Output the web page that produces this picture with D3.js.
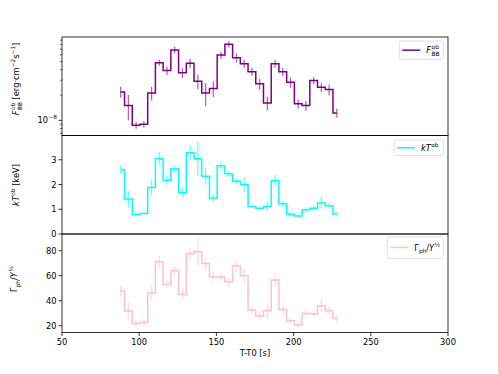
<!DOCTYPE html>
<html>
<head>
<meta charset="utf-8">
<script src="https://cdn.jsdelivr.net/npm/d3@7"></script>
<style>
  body { margin: 0; background: #fff; }
  text { font-family: "DejaVu Sans", sans-serif; fill: #000; white-space: pre; }
</style>
</head>
<body>
<div id="chart"></div>
<script>
// bin centres [s]
var times = [88, 93, 98, 103, 108, 113, 118, 123, 128, 133, 138, 143, 148, 153, 158,
             163, 168, 173, 178, 183, 188, 193, 198, 203, 208, 213, 218, 223, 228];

// observed blackbody flux [erg cm^-2 s^-1]
var flux = [2.18e-8, 1.50e-8, 0.875e-8, 0.90e-8, 2.12e-8, 4.85e-8, 3.92e-8, 6.87e-8, 3.68e-8, 4.76e-8,
            2.92e-8, 2.12e-8, 2.39e-8, 5.98e-8, 8.04e-8, 5.57e-8, 4.72e-8, 3.78e-8, 2.72e-8, 1.61e-8,
            4.72e-8, 3.78e-8, 2.84e-8, 1.58e-8, 1.50e-8, 2.98e-8, 2.47e-8, 2.32e-8, 1.22e-8];
var fluxErr = [0.33e-8, 0.5e-8, 0.08e-8, 0.08e-8, 0.4e-8, 0.4e-8, 0.45e-8, 0.65e-8, 0.5e-8, 0.6e-8,
               0.6e-8, 0.65e-8, 0.5e-8, 0.6e-8, 0.7e-8, 0.7e-8, 0.5e-8, 0.4e-8, 0.4e-8, 0.3e-8,
               0.5e-8, 0.4e-8, 0.4e-8, 0.2e-8, 0.2e-8, 0.3e-8, 0.3e-8, 0.35e-8, 0.15e-8];

// observed temperature [keV]
var kT = [2.60, 1.41, 0.78, 0.83, 1.88, 3.05, 2.17, 2.64, 1.68, 3.28,
          3.04, 2.33, 1.45, 2.76, 2.43, 2.13, 1.99, 1.11, 1.04, 1.11,
          2.15, 1.22, 0.80, 0.73, 0.98, 1.04, 1.25, 1.14, 0.81];
var kTErr = [0.16, 0.33, 0.05, 0.05, 0.32, 0.27, 0.17, 0.14, 0.18, 0.3,
             0.7, 0.34, 0.15, 0.15, 0.1, 0.12, 0.28, 0.06, 0.06, 0.2,
             0.24, 0.1, 0.05, 0.05, 0.1, 0.08, 0.23, 0.12, 0.08];

// Gamma_ph / Y^(1/2)
var gam = [47.8, 31.8, 21.9, 22.7, 46.4, 71.2, 53.1, 64.0, 45.1, 77.9,
           79.2, 69.9, 59.0, 59.0, 55.2, 68.0, 60.0, 32.6, 27.8, 32.0,
           56.6, 33.1, 24.0, 20.6, 29.9, 29.4, 35.8, 32.0, 25.9];
var gamErr = [4, 7, 3, 3, 6, 5, 3, 4, 4, 4.5,
              11, 5, 4, 3, 3, 5, 5, 3, 3, 6,
              5, 3, 2, 2, 3, 2, 5, 3, 3];

var xTicks = [50, 100, 150, 200, 250, 300];

var W = 498, H = 374, fs = 8.3;
var left = 62, right = 448;
var rows = [37, 135.5, 234, 332.5];

var svg = d3.select('#chart').append('svg')
    .attr('width', W).attr('height', H);

var x = d3.scaleLinear().domain([50, 300]).range([left, right]);

// lay out a piece of "math" text in a group, returns its width
function rich(g, parts, size) {
    var cx = 0, lastX = 0;
    parts.forEach(function(p) {
        var t = g.append('text')
            .attr('x', p.stack ? lastX : cx)
            .attr('y', (p.dy || 0) * size)
            .attr('font-size', size * (p.s || 1))
            .attr('font-style', p.i ? 'italic' : 'normal')
            .text(p.t);
        var w = t.node().getComputedTextLength();
        if (!p.stack) { lastX = cx; cx += w + (p.gap || 0); }
        else { cx = Math.max(cx, lastX + w); }
    });
    return cx;
}

var panels = [
    {
        vals: flux, errs: fluxErr, color: 'purple',
        y: d3.scaleLog().domain([6.6e-9, 9.8e-8]).range([rows[1], rows[0]]),
        log: true,
        label: [{t: 'F', i: true, gap: 0.5}, {t: 'ob', s: 0.7, dy: -0.45}, {t: 'BB', s: 0.7, dy: 0.3, stack: true},
                {t: ' [erg\u00b7cm'}, {t: '\u22122', s: 0.7, dy: -0.45}, {t: 's'}, {t: '\u22121', s: 0.7, dy: -0.45}, {t: ']'}],
        labelX: 19, labelY: 79,
        legend: [{t: 'F', i: true, gap: 0.5}, {t: 'ob', s: 0.7, dy: -0.45}, {t: 'BB', s: 0.7, dy: 0.3, stack: true}],
        box: [399.3, 41, 44, 18.3]
    },
    {
        vals: kT, errs: kTErr, color: 'cyan',
        y: d3.scaleLinear().domain([0, 3.98]).range([rows[2], rows[1]]),
        ticks: [0, 1, 2, 3],
        label: [{t: 'kT', i: true, gap: 0.3}, {t: 'ob', s: 0.7, dy: -0.45}, {t: ' [keV]'}],
        labelX: 19, labelY: 185,
        legend: [{t: 'kT', i: true, gap: 0.3}, {t: 'ob', s: 0.7, dy: -0.45}],
        box: [394, 140, 49.3, 15.5]
    },
    {
        vals: gam, errs: gamErr, color: 'pink',
        y: d3.scaleLinear().domain([14.6, 93.4]).range([rows[3], rows[2]]),
        ticks: [20, 40, 60, 80],
        label: [{t: '\u0393'}, {t: 'ph', s: 0.7, dy: 0.3}, {t: '/'}, {t: 'Y', i: true, gap: 0.4}, {t: '\u00bd', s: 0.7, dy: -0.45}],
        labelX: 17, labelY: 279,
        legend: [{t: '\u0393'}, {t: 'ph', s: 0.7, dy: 0.3}, {t: '/'}, {t: 'Y', i: true, gap: 0.4}, {t: '\u00bd', s: 0.7, dy: -0.45}],
        box: [387.3, 236.7, 56, 21.6]
    }
];

panels.forEach(function(p, k) {
    var g = svg.append('g');
    var y = p.y;
    var pts = times.map(function(t, i) { return [t, p.vals[i], p.errs[i]]; });

    // step line
    var line = d3.line()
        .x(function(d) { return x(d[0]); })
        .y(function(d) { return y(d[1]); })
        .curve(d3.curveStep);
    g.append('path').datum(pts)
        .attr('d', line)
        .attr('fill', 'none')
        .attr('stroke', p.color)
        .attr('stroke-width', 1.5);

    // error bars
    g.selectAll('line.err').data(pts).enter().append('line')
        .attr('class', 'err')
        .attr('x1', function(d) { return x(d[0]); })
        .attr('x2', function(d) { return x(d[0]); })
        .attr('y1', function(d) { return y(d[1] - d[2]); })
        .attr('y2', function(d) { return y(d[1] + d[2]); })
        .attr('stroke', p.color)
        .attr('stroke-opacity', 0.6)
        .attr('stroke-width', 1.3);

    // y ticks
    var yg = g.append('g');
    if (p.log) {
        var dom = y.domain();
        var minor = [];
        [1e-9, 1e-8].forEach(function(dec) {
            for (var m = 1; m <= 9; m++) {
                var v = m * dec;
                if (v >= dom[0] && v <= dom[1]) minor.push(v);
            }
        });
        minor.forEach(function(v) {
            var major = Math.abs(v - 1e-8) < 1e-12;
            yg.append('line')
                .attr('x1', left).attr('x2', left - (major ? 3.5 : 2))
                .attr('y1', y(v)).attr('y2', y(v))
                .attr('stroke', '#000').attr('stroke-width', major ? 0.8 : 0.6);
        });
        var lt = yg.append('g').attr('transform', 'translate(' + (left - 5) + ',' + (y(1e-8) + 3) + ')');
        var tmp = lt.append('g');
        var w = rich(tmp, [{t: '10', gap: 0.3}, {t: '\u22128', s: 0.7, dy: -0.5}], fs);
        tmp.attr('transform', 'translate(' + (-w) + ',0)');
    } else {
        p.ticks.forEach(function(v) {
            yg.append('line')
                .attr('x1', left).attr('x2', left - 3.5)
                .attr('y1', y(v)).attr('y2', y(v))
                .attr('stroke', '#000').attr('stroke-width', 0.8);
            yg.append('text')
                .attr('x', left - 5.5).attr('y', y(v) + 3)
                .attr('text-anchor', 'end')
                .attr('font-size', fs)
                .text(v);
        });
    }

    // frame
    g.append('rect')
        .attr('x', left).attr('y', rows[k])
        .attr('width', right - left).attr('height', rows[k + 1] - rows[k])
        .attr('fill', 'none').attr('stroke', '#000').attr('stroke-width', 0.8);

    // y label
    var lg = svg.append('g')
        .attr('transform', 'translate(' + p.labelX + ',' + p.labelY + ') rotate(-90)');
    var inner = lg.append('g');
    var lw = rich(inner, p.label, fs);
    inner.attr('transform', 'translate(' + (-lw / 2) + ',0)');

    // legend
    var b = p.box;
    svg.append('rect')
        .attr('x', b[0]).attr('y', b[1]).attr('width', b[2]).attr('height', b[3])
        .attr('rx', 2).attr('fill', '#fff').attr('fill-opacity', 0.8)
        .attr('stroke', '#d6d6d6').attr('stroke-width', 0.8);
    var cy = b[1] + b[3] / 2;
    svg.append('line')
        .attr('x1', b[0] + 3).attr('x2', b[0] + 21)
        .attr('y1', cy).attr('y2', cy)
        .attr('stroke', p.color).attr('stroke-width', 1.5);
    var tg = svg.append('g').attr('transform', 'translate(' + (b[0] + 27) + ',' + (cy + 3) + ')');
    rich(tg, p.legend, fs);
});

// x axis on bottom panel
var xg = svg.append('g');
xTicks.forEach(function(v) {
    xg.append('line')
        .attr('x1', x(v)).attr('x2', x(v))
        .attr('y1', rows[3]).attr('y2', rows[3] + 3.5)
        .attr('stroke', '#000').attr('stroke-width', 0.8);
    xg.append('text')
        .attr('x', x(v)).attr('y', rows[3] + 12)
        .attr('text-anchor', 'middle')
        .attr('font-size', fs)
        .text(v);
});
svg.append('text')
    .attr('x', (left + right) / 2).attr('y', rows[3] + 23.5)
    .attr('text-anchor', 'middle')
    .attr('font-size', fs)
    .text('T-T0 [s]');
</script>
</body>
</html>
